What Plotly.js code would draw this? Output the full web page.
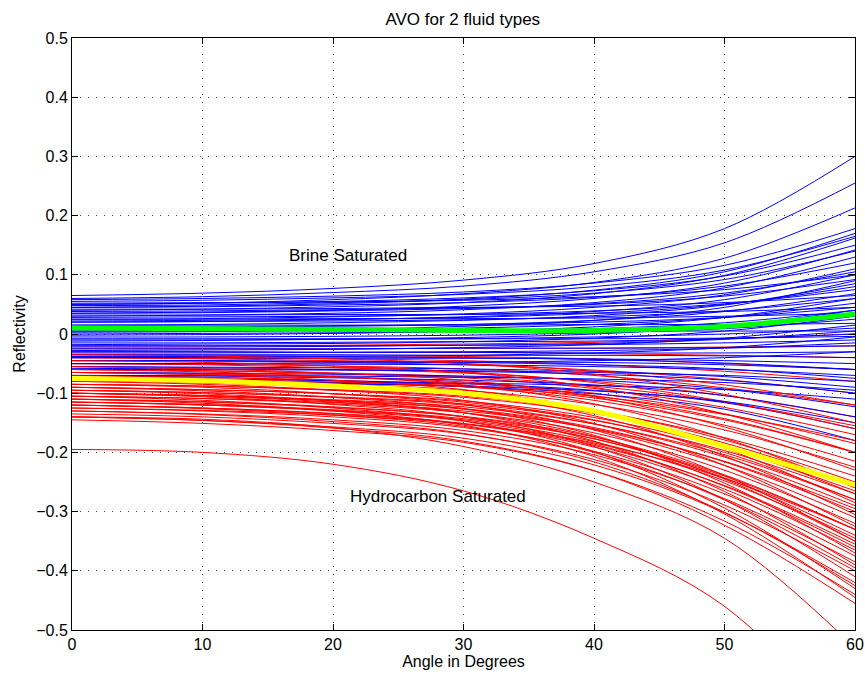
<!DOCTYPE html>
<html>
<head>
<meta charset="utf-8">
<script src="https://cdn.plot.ly/plotly-3.0.1.min.js"></script>
<style>html,body{margin:0;padding:0;background:#fff;}#chart{width:865px;height:675px;}</style>
</head>
<body>
<div id="chart"></div>
<script>
// Angles (degrees) at which each curve is read
var angles = [0, 10, 20, 30, 40, 50, 60];

// Brine saturated curves (blue)
var brineCurves = [
  [0.065, 0.069, 0.077, 0.091, 0.119, 0.178, 0.300],
  [0.060, 0.063, 0.070, 0.081, 0.105, 0.154, 0.255],
  [0.050, 0.052, 0.058, 0.068, 0.087, 0.128, 0.213],
  [0.058, 0.060, 0.064, 0.071, 0.086, 0.116, 0.178],
  [0.045, 0.047, 0.051, 0.059, 0.074, 0.105, 0.170],
  [0.040, 0.042, 0.046, 0.053, 0.068, 0.099, 0.162],
  [0.050, 0.052, 0.055, 0.061, 0.073, 0.098, 0.150],
  [0.035, 0.037, 0.040, 0.047, 0.060, 0.086, 0.142],
  [0.030, 0.032, 0.035, 0.041, 0.053, 0.078, 0.130],
  [0.045, 0.046, 0.049, 0.053, 0.062, 0.081, 0.120],
  [0.025, 0.026, 0.029, 0.034, 0.045, 0.066, 0.110],
  [0.020, 0.021, 0.024, 0.029, 0.038, 0.058, 0.100],
  [0.038, 0.039, 0.041, 0.044, 0.050, 0.064, 0.092],
  [0.015, 0.016, 0.019, 0.023, 0.031, 0.049, 0.085],
  [0.028, 0.029, 0.030, 0.033, 0.039, 0.051, 0.075],
  [0.010, 0.011, 0.013, 0.016, 0.023, 0.038, 0.068],
  [0.020, 0.021, 0.022, 0.024, 0.029, 0.039, 0.060],
  [0.005, 0.006, 0.007, 0.010, 0.016, 0.028, 0.052],
  [0.032, 0.032, 0.033, 0.033, 0.035, 0.038, 0.045],
  [0.000, 0.001, 0.002, 0.004, 0.009, 0.019, 0.040],
  [-0.005, -0.005, -0.004, -0.002, 0.002, 0.009, 0.025],
  [0.015, 0.015, 0.015, 0.015, 0.016, 0.016, 0.018],
  [-0.010, -0.010, -0.009, -0.008, -0.005, 0.000, 0.010],
  [-0.015, -0.015, -0.014, -0.013, -0.012, -0.008, 0.000],
  [-0.020, -0.020, -0.020, -0.019, -0.018, -0.015, -0.010],
  [-0.025, -0.025, -0.025, -0.024, -0.024, -0.023, -0.020],
  [-0.030, -0.030, -0.031, -0.031, -0.032, -0.032, -0.030],
  [-0.035, -0.035, -0.035, -0.036, -0.036, -0.037, -0.040],
  [-0.040, -0.040, -0.041, -0.041, -0.042, -0.045, -0.050],
  [-0.045, -0.045, -0.046, -0.047, -0.048, -0.052, -0.060],
  [-0.050, -0.050, -0.051, -0.052, -0.055, -0.060, -0.070],
  [-0.060, -0.060, -0.061, -0.062, -0.065, -0.070, -0.080],
  [-0.055, -0.056, -0.057, -0.059, -0.063, -0.072, -0.090],
  [-0.070, -0.070, -0.071, -0.073, -0.076, -0.082, -0.095],
  [-0.080, -0.080, -0.082, -0.083, -0.087, -0.094, -0.110],
  [-0.065, -0.066, -0.068, -0.071, -0.078, -0.093, -0.123],
  [-0.070, -0.071, -0.074, -0.078, -0.086, -0.104, -0.140],
  [-0.075, -0.076, -0.079, -0.084, -0.095, -0.116, -0.160],
  [-0.078, -0.080, -0.083, -0.089, -0.101, -0.127, -0.180],
  [-0.080, -0.081, -0.084, -0.088, -0.096, -0.114, -0.150],
  [0.005, 0.005, 0.005, 0.005, 0.005, 0.005, 0.005],
  [-0.008, -0.008, -0.008, -0.008, -0.008, -0.007, -0.004],
  [0.052, 0.053, 0.054, 0.057, 0.063, 0.075, 0.100],
  [0.042, 0.042, 0.043, 0.045, 0.047, 0.053, 0.065],
  [0.025, 0.025, 0.026, 0.026, 0.027, 0.030, 0.035],
  [-0.002, -0.001, 0.001, 0.005, 0.012, 0.028, 0.060],
  [-0.018, -0.017, -0.016, -0.013, -0.007, 0.005, 0.030],
  [-0.028, -0.027, -0.026, -0.023, -0.018, -0.007, 0.015],
  [-0.040, -0.039, -0.038, -0.036, -0.032, -0.023, -0.005],
  [-0.050, -0.050, -0.049, -0.048, -0.045, -0.040, -0.030],
  [0.048, 0.049, 0.053, 0.058, 0.069, 0.092, 0.140],
  [0.035, 0.036, 0.039, 0.043, 0.051, 0.069, 0.105],
  [0.022, 0.023, 0.025, 0.028, 0.035, 0.050, 0.080],
  [0.012, 0.012, 0.014, 0.016, 0.020, 0.028, 0.045],
  [-0.012, -0.011, -0.009, -0.006, 0.000, 0.013, 0.040],
  [-0.022, -0.022, -0.021, -0.019, -0.016, -0.009, 0.005],
  [-0.032, -0.032, -0.031, -0.030, -0.028, -0.024, -0.015],
  [-0.038, -0.038, -0.039, -0.040, -0.043, -0.049, -0.060],
  [-0.045, -0.045, -0.047, -0.048, -0.052, -0.059, -0.075],
  [-0.058, -0.059, -0.060, -0.063, -0.068, -0.078, -0.100],
  [0.003, 0.004, 0.007, 0.013, 0.023, 0.045, 0.090],
  [0.055, 0.057, 0.061, 0.067, 0.080, 0.108, 0.165]
];

// Hydrocarbon saturated curves (red)
var hydrocarbonCurves = [
  [-0.020, -0.020, -0.019, -0.017, -0.014, -0.008, 0.000],
  [-0.025, -0.025, -0.025, -0.024, -0.024, -0.022, -0.020],
  [-0.030, -0.030, -0.031, -0.031, -0.033, -0.036, -0.040],
  [-0.035, -0.036, -0.037, -0.038, -0.042, -0.050, -0.060],
  [-0.040, -0.041, -0.042, -0.045, -0.052, -0.063, -0.080],
  [-0.045, -0.046, -0.048, -0.052, -0.061, -0.077, -0.100],
  [-0.050, -0.051, -0.054, -0.059, -0.070, -0.091, -0.120],
  [-0.055, -0.057, -0.060, -0.066, -0.080, -0.104, -0.140],
  [-0.060, -0.062, -0.066, -0.072, -0.088, -0.115, -0.155],
  [-0.060, -0.062, -0.067, -0.074, -0.092, -0.124, -0.170],
  [-0.065, -0.067, -0.072, -0.081, -0.100, -0.135, -0.185],
  [-0.070, -0.073, -0.078, -0.087, -0.108, -0.145, -0.200],
  [-0.070, -0.073, -0.079, -0.089, -0.112, -0.154, -0.215],
  [-0.075, -0.078, -0.084, -0.095, -0.119, -0.162, -0.225],
  [-0.085, -0.088, -0.094, -0.105, -0.130, -0.175, -0.240],
  [-0.090, -0.094, -0.101, -0.113, -0.141, -0.192, -0.265],
  [-0.090, -0.094, -0.101, -0.115, -0.145, -0.200, -0.280],
  [-0.095, -0.099, -0.107, -0.120, -0.152, -0.208, -0.290],
  [-0.100, -0.104, -0.112, -0.126, -0.158, -0.216, -0.300],
  [-0.100, -0.104, -0.113, -0.127, -0.161, -0.222, -0.310],
  [-0.105, -0.109, -0.118, -0.133, -0.167, -0.230, -0.320],
  [-0.110, -0.114, -0.123, -0.139, -0.174, -0.238, -0.330],
  [-0.110, -0.115, -0.124, -0.140, -0.177, -0.243, -0.340],
  [-0.115, -0.120, -0.129, -0.145, -0.182, -0.248, -0.345],
  [-0.120, -0.125, -0.134, -0.151, -0.188, -0.256, -0.355],
  [-0.120, -0.125, -0.135, -0.152, -0.191, -0.262, -0.365],
  [-0.125, -0.130, -0.140, -0.158, -0.198, -0.270, -0.375],
  [-0.130, -0.135, -0.145, -0.163, -0.204, -0.278, -0.385],
  [-0.135, -0.140, -0.151, -0.169, -0.212, -0.289, -0.400],
  [-0.140, -0.146, -0.157, -0.176, -0.221, -0.302, -0.420],
  [-0.145, -0.151, -0.163, -0.183, -0.231, -0.316, -0.440],
  [-0.140, -0.146, -0.159, -0.181, -0.231, -0.323, -0.455],
  [-0.140, -0.144, -0.158, -0.190, -0.250, -0.345, -0.530],
  [-0.195, -0.200, -0.220, -0.265, -0.345, -0.460, -0.680],
  [-0.080, -0.083, -0.090, -0.102, -0.129, -0.179, -0.250],
  [-0.095, -0.099, -0.106, -0.118, -0.146, -0.197, -0.270],
  [-0.105, -0.109, -0.116, -0.130, -0.160, -0.215, -0.295],
  [-0.115, -0.119, -0.128, -0.143, -0.177, -0.240, -0.330],
  [-0.050, -0.052, -0.057, -0.064, -0.082, -0.114, -0.160],
  [-0.065, -0.068, -0.073, -0.083, -0.104, -0.143, -0.200],
  [-0.085, -0.088, -0.095, -0.107, -0.134, -0.184, -0.255],
  [-0.075, -0.077, -0.081, -0.089, -0.105, -0.136, -0.180],
  [-0.040, -0.042, -0.045, -0.050, -0.063, -0.086, -0.120],
  [-0.100, -0.105, -0.115, -0.133, -0.173, -0.245, -0.350],
  [-0.125, -0.129, -0.137, -0.152, -0.184, -0.244, -0.330],
  [-0.060, -0.064, -0.072, -0.086, -0.118, -0.176, -0.260],
  [-0.065, -0.069, -0.078, -0.094, -0.129, -0.193, -0.285],
  [-0.070, -0.075, -0.084, -0.101, -0.138, -0.206, -0.305],
  [-0.080, -0.085, -0.095, -0.112, -0.151, -0.222, -0.325],
  [-0.085, -0.090, -0.101, -0.119, -0.162, -0.239, -0.350],
  [-0.090, -0.096, -0.107, -0.126, -0.171, -0.252, -0.370],
  [-0.095, -0.101, -0.113, -0.133, -0.181, -0.266, -0.390],
  [-0.100, -0.106, -0.119, -0.140, -0.190, -0.280, -0.410],
  [-0.105, -0.112, -0.125, -0.147, -0.199, -0.294, -0.430],
  [-0.110, -0.117, -0.130, -0.154, -0.207, -0.304, -0.445],
  [-0.115, -0.120, -0.130, -0.147, -0.186, -0.257, -0.360],
  [-0.120, -0.126, -0.137, -0.156, -0.200, -0.280, -0.395],
  [-0.130, -0.136, -0.148, -0.168, -0.216, -0.301, -0.425],
  [-0.075, -0.079, -0.087, -0.100, -0.132, -0.188, -0.270],
  [-0.100, -0.104, -0.111, -0.123, -0.152, -0.204, -0.280],
  [-0.035, -0.037, -0.042, -0.050, -0.068, -0.102, -0.150],
  [-0.045, -0.048, -0.054, -0.065, -0.090, -0.135, -0.200],
  [-0.055, -0.059, -0.066, -0.078, -0.106, -0.157, -0.230]
];

// Mean curves
var brineMean = [0.010, 0.009, 0.008, 0.006, 0.006, 0.013, 0.034];
var hydrocarbonMean = [-0.075, -0.079, -0.088, -0.100, -0.130, -0.190, -0.255];

var labels = {title: 'AVO for 2 fluid types', xTitle: 'Angle in Degrees', yTitle: 'Reflectivity',
  brine: 'Brine Saturated', hydro: 'Hydrocarbon Saturated'};

var traces = [];
function lineTrace(y, color, width) {
  return {x: angles, y: y, type: 'scatter', mode: 'lines',
    line: {color: color, width: width, shape: 'spline', smoothing: 1},
    hoverinfo: 'skip', showlegend: false};
}
var n = Math.max(brineCurves.length, hydrocarbonCurves.length);
for (var i = 0; i < n; i++) {
  if (i < brineCurves.length) traces.push(lineTrace(brineCurves[i], '#0000ff', 1));
  if (i < hydrocarbonCurves.length) traces.push(lineTrace(hydrocarbonCurves[i], '#ff0000', 1));
}
traces.push(lineTrace(brineMean, '#00ff00', 5));
traces.push(lineTrace(hydrocarbonMean, '#ffff00', 5));

var fam = 'Liberation Sans, Arial, Helvetica, sans-serif';
var tickFont = {family: fam, size: 16, color: '#000'};
var labelFont = {family: fam, size: 16, color: '#000'};
var textFont = {family: fam, size: 17, color: '#000'};
var axisCommon = {
  showline: true, linecolor: '#000', linewidth: 1, mirror: 'ticks',
  ticks: 'inside', ticklen: 6, tickcolor: '#000', tickwidth: 1,
  showgrid: true, gridcolor: '#444', griddash: '1px,7px', gridwidth: 1,
  zeroline: false, tickfont: tickFont
};

var layout = {
  width: 865, height: 675,
  margin: {l: 72, r: 10, t: 38, b: 45},
  paper_bgcolor: '#fff', plot_bgcolor: '#fff',
  font: labelFont,
  title: {text: labels.title, font: textFont, x: 0.535, xanchor: 'center', y: 0.972, yanchor: 'middle'},
  xaxis: Object.assign({}, axisCommon, {range: [0, 60], tickvals: [0, 10, 20, 30, 40, 50, 60],
    title: {text: labels.xTitle, font: labelFont, standoff: 2}}),
  yaxis: Object.assign({}, axisCommon, {range: [-0.5, 0.5], tickvals: [-0.5, -0.4, -0.3, -0.2, -0.1, 0, 0.1, 0.2, 0.3, 0.4, 0.5],
    title: {text: labels.yTitle, font: labelFont, standoff: 6}}),
  annotations: [
    {x: 16.5, y: 0.133, xref: 'x', yref: 'y', text: labels.brine, showarrow: false, xanchor: 'left', yanchor: 'middle', font: textFont},
    {x: 21.15, y: -0.275, xref: 'x', yref: 'y', text: labels.hydro, showarrow: false, xanchor: 'left', yanchor: 'middle', font: textFont}
  ]
};

Plotly.newPlot('chart', traces, layout, {staticPlot: true, displayModeBar: false});
</script>
</body>
</html>
